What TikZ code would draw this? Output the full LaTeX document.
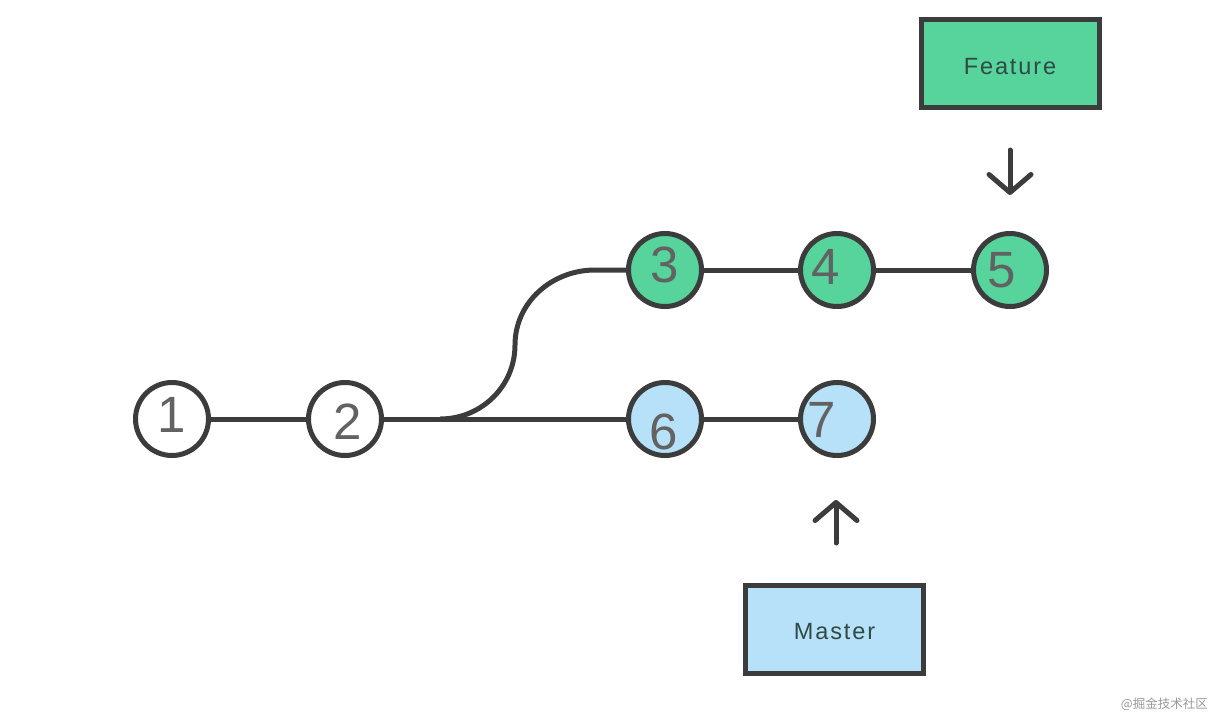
\documentclass[tikz,border=0pt]{standalone}
\usepackage{fontspec}
\setmainfont{Liberation Sans}
\newfontfamily\cjk{Noto Sans CJK SC}
\usetikzlibrary{arrows.meta}
\definecolor{ink}{HTML}{3C3C3C}
\definecolor{digit}{HTML}{626262}
\definecolor{fgreen}{HTML}{57D39C}
\definecolor{fblue}{HTML}{B6E1F9}
\definecolor{boxtext}{HTML}{2F4A44}
\tikzset{
  commit/.style={circle, draw=ink, line width=5pt, minimum size=73pt, inner sep=0pt},
  digitlabel/.style={text=digit, font=\fontsize{51}{51}\selectfont, inner sep=0pt},
  branchbox/.style={draw=ink, line width=5pt, minimum width=178pt, minimum height=88pt, inner sep=0pt,
    font=\fontsize{23.5}{23.5}\selectfont\addfontfeature{LetterSpace=8}, text=boxtext},
  boxlabel/.style={text=boxtext, inner sep=0pt, font=\fontsize{23.5}{23.5}\selectfont\addfontfeature{LetterSpace=8}},
  link/.style={draw=ink, line width=5pt},
  pointer/.style={draw=ink, line width=5pt, line cap=round, -{Straight Barb[length=18pt,width=42pt,line cap=round,line join=round]}}
}
\begin{document}
\begin{tikzpicture}[x=1pt,y=-1pt]
\useasboundingbox (0,0) rectangle (1220,724);
% commits
\node[commit, fill=white] (c1) at (172,419) {};
\node[commit, fill=white] (c2) at (345,419) {};
\node[commit, fill=fgreen] (c3) at (665,270) {};
\node[commit, fill=fgreen] (c4) at (837,270) {};
\node[commit, fill=fgreen] (c5) at (1010,270) {};
\node[commit, fill=fblue] (c6) at (665,419) {};
\node[commit, fill=fblue] (c7) at (837,419) {};
% digits
\node[digitlabel] (t1) at (172,415) {1};
\node[digitlabel] (t2) at (348,422) {2};
\node[digitlabel] (t3) at (665,265) {3};
\node[digitlabel] (t4) at (826,267) {4};
\node[digitlabel] (t5) at (1002,270) {5};
\node[digitlabel] (t6) at (664,432) {6};
\node[digitlabel] (t7) at (822,420) {7};
% links
\draw[link] (c1) -- (c2);
\draw[link] (c2) -- (c6);
\draw[link] (c3) -- (c4);
\draw[link] (c4) -- (c5);
\draw[link] (c6) -- (c7);
\coordinate (fork) at (440,419);
\coordinate (bend) at (515,345);
\draw[link] (fork) to[out=0,in=-90] (bend) to[out=90,in=180] (595,270) -- (c3.west);
% branch labels
\node[branchbox, fill=fgreen] (feature) at (1010,63.5) {};
\node[boxlabel] (ftext) at (1010,67) {Feature};
\node[branchbox, fill=fblue] (master) at (834.5,629) {};
\node[boxlabel] (mtext) at (834.5,632) {Master};
\coordinate (fa1) at (1010,150);
\coordinate (fa2) at (1010,195);
\coordinate (ma1) at (836,543);
\coordinate (ma2) at (836,500);
\draw[pointer] (fa1) -- (fa2);
\draw[pointer] (ma1) -- (ma2);
% watermark
\node[text=gray!80, font=\cjk\fontsize{12.5}{12.5}\selectfont, anchor=east, inner sep=0pt] (wm) at (1208,704) {@掘金技术社区};
\end{tikzpicture}
\end{document}
